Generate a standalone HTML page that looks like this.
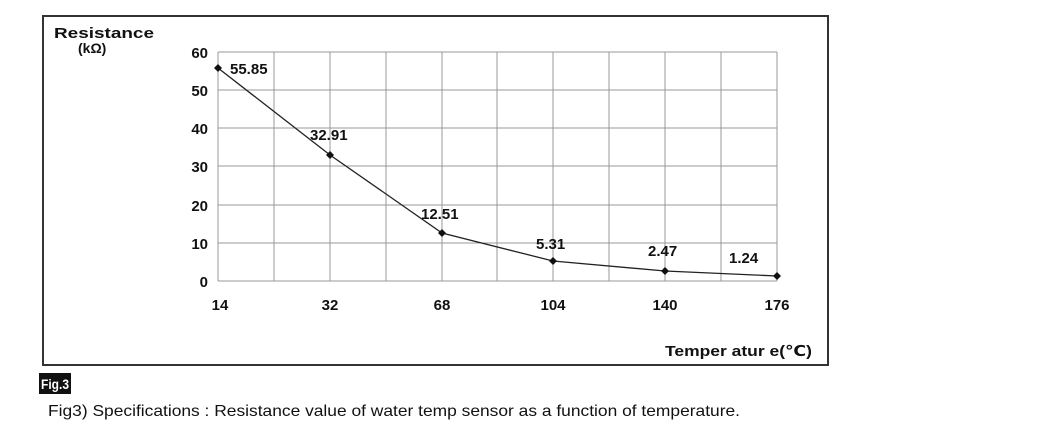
<!DOCTYPE html>
<html><head><style>
body{margin:0;background:#fff;width:1051px;height:437px;overflow:hidden;position:relative;font-family:"Liberation Sans",sans-serif}
</style></head><body>
<svg width="1051" height="437" style="position:absolute;left:0;top:0" font-family="Liberation Sans, DejaVu Sans, sans-serif">
<rect x="43" y="16" width="785" height="349" fill="none" stroke="#333" stroke-width="2"/>
<g stroke="#999" stroke-width="1">
<line x1="218" y1="52" x2="777" y2="52"/><line x1="218" y1="90" x2="777" y2="90"/><line x1="218" y1="128" x2="777" y2="128"/><line x1="218" y1="166" x2="777" y2="166"/><line x1="218" y1="205" x2="777" y2="205"/><line x1="218" y1="243" x2="777" y2="243"/><line x1="218" y1="281" x2="777" y2="281"/>
<line x1="218" y1="52" x2="218" y2="281"/><line x1="274" y1="52" x2="274" y2="281"/><line x1="330" y1="52" x2="330" y2="281"/><line x1="386" y1="52" x2="386" y2="281"/><line x1="442" y1="52" x2="442" y2="281"/><line x1="497" y1="52" x2="497" y2="281"/><line x1="553" y1="52" x2="553" y2="281"/><line x1="609" y1="52" x2="609" y2="281"/><line x1="665" y1="52" x2="665" y2="281"/><line x1="721" y1="52" x2="721" y2="281"/><line x1="777" y1="52" x2="777" y2="281"/>
</g>
<polyline points="218,68 330,155 442,233 553,261 665,271 777,276" fill="none" stroke="#222" stroke-width="1.3"/>
<g fill="#111">
<path d="M218,64 l4,4 -4,4 -4,-4z"/><path d="M330,151 l4,4 -4,4 -4,-4z"/><path d="M442,229 l4,4 -4,4 -4,-4z"/><path d="M553,257 l4,4 -4,4 -4,-4z"/><path d="M665,267 l4,4 -4,4 -4,-4z"/><path d="M777,272 l4,4 -4,4 -4,-4z"/>
</g>
<g font-size="15" font-weight="bold" fill="#111">
<text x="230" y="74">55.85</text><text x="310" y="140">32.91</text><text x="421" y="219">12.51</text><text x="536" y="249">5.31</text><text x="648" y="256">2.47</text><text x="729" y="263">1.24</text>
</g>
<g font-size="15" font-weight="bold" fill="#111" text-anchor="end">
<text x="208" y="58">60</text><text x="208" y="96">50</text><text x="208" y="134">40</text><text x="208" y="172">30</text><text x="208" y="211">20</text><text x="208" y="249">10</text><text x="208" y="287">0</text>
</g>
<g font-size="15" font-weight="bold" fill="#111" text-anchor="middle">
<text x="220" y="310">14</text><text x="330" y="310">32</text><text x="442" y="310">68</text><text x="553" y="310">104</text><text x="665" y="310">140</text><text x="777" y="310">176</text>
</g>
<text x="54" y="38" font-size="15" font-weight="bold" fill="#111" textLength="100" lengthAdjust="spacingAndGlyphs">Resistance</text>
<text x="78" y="53" font-size="14" font-weight="bold" fill="#111">(kΩ)</text>
<text x="665" y="356" font-size="15" font-weight="bold" fill="#111" textLength="147" lengthAdjust="spacingAndGlyphs">Temper atur e(℃)</text>
<rect x="39" y="373" width="32" height="21" fill="#111"/>
<text x="41" y="389" font-size="14" font-weight="bold" fill="#fff" textLength="28" lengthAdjust="spacingAndGlyphs">Fig.3</text>
<text x="48" y="416" font-size="16" fill="#111" textLength="692" lengthAdjust="spacingAndGlyphs">Fig3) Specifications : Resistance value of water temp sensor as a function of temperature.</text>
</svg>
</body></html>
